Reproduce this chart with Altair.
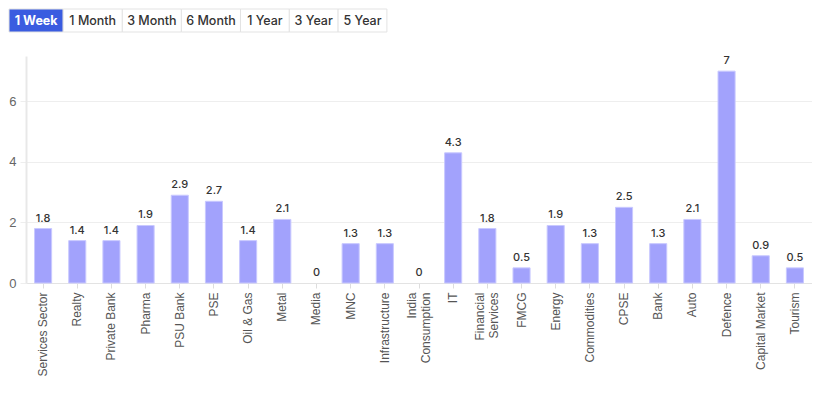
import altair as alt
import pandas as pd

categories = ["Services Sector", "Realty", "Private Bank", "Pharma", "PSU Bank", "PSE",
              "Oil & Gas", "Metal", "Media", "MNC", "Infrastructure", "India Consumption",
              "IT", "Financial Services", "FMCG", "Energy", "Commodities", "CPSE", "Bank",
              "Auto", "Defence", "Capital Market", "Tourism"]
values = [1.8, 1.4, 1.4, 1.9, 2.9, 2.7, 1.4, 2.1, 0, 1.3, 1.3, 0,
          4.3, 1.8, 0.5, 1.9, 1.3, 2.5, 1.3, 2.1, 7, 0.9, 0.5]
y_ticks = [0, 2, 4, 6]
two_line_labels = ["India Consumption", "Financial Services"]

buttons = ["1 Week", "1 Month", "3 Month", "6 Month", "1 Year", "3 Year", "5 Year"]
active_button = "1 Week"

# approximate text widths for the period selector buttons
char_w = {"W": 10.5, "M": 10.0, "Y": 7.0, " ": 3.0, "e": 6.5, "k": 6.3, "o": 6.8,
          "n": 6.8, "t": 4.3, "h": 6.8, "a": 6.4, "r": 4.5}
def text_w(s):
    return sum(char_w.get(c, 6.8) for c in s)

starts, ends = [], []
pos = 0.0
for b in buttons:
    w = text_w(b) + 14.6
    starts.append(pos)
    ends.append(pos + w)
    pos += w
total = pos
btn_df = pd.DataFrame({"label": buttons, "x0": starts, "x1": ends,
                       "active": [b == active_button for b in buttons]})
btn_df["xm"] = (btn_df["x0"] + btn_df["x1"]) / 2

LEFT_SHIFT = 17
bx = alt.Scale(domain=[0, total], range=[-LEFT_SHIFT, total - LEFT_SHIFT])

btn_rect = alt.Chart(btn_df).mark_rect(stroke="#e3e3e3", strokeWidth=1).encode(
    x=alt.X("x0:Q", scale=bx, axis=None),
    x2="x1:Q",
    y=alt.value(0),
    y2=alt.value("height"),
    fill=alt.condition("datum.active", alt.value("#3a5ce0"), alt.value("#ffffff")),
)
btn_text_active = alt.Chart(btn_df).transform_filter("datum.active").mark_text(
    font="Inter", fontSize=12.5, fontWeight=700, baseline="middle", color="#ffffff").encode(
    x=alt.X("xm:Q", scale=bx, axis=None),
    y=alt.value(12),
    text="label:N",
)
btn_text = alt.Chart(btn_df).transform_filter("!datum.active").mark_text(
    font="Inter", fontSize=12.5, fontWeight=500, baseline="middle", color="#333333").encode(
    x=alt.X("xm:Q", scale=bx, axis=None),
    y=alt.value(12),
    text="label:N",
)
btn_chart = alt.layer(btn_rect, btn_text_active, btn_text).properties(
    width=total - LEFT_SHIFT, height=23)

df = pd.DataFrame({"category": categories, "value": values})

two_line_js = "[" + ",".join("'" + s + "'" for s in two_line_labels) + "]"
x_enc = alt.X("category:N", sort=categories, title=None,
              scale=alt.Scale(paddingInner=0.5, paddingOuter=0.25),
              axis=alt.Axis(labelAngle=-90, labelAlign="right", labelBaseline="middle",
                            labelFont="Liberation Sans", labelFontSize=12, labelColor="#555555",
                            labelPadding=4, tickSize=5, tickColor="#dddddd",
                            domainColor="#e3e3e3", labelLineHeight=14,
                            labelOffset={"condition": {"test": f"indexof({two_line_js}, datum.label) >= 0",
                                                       "value": -7}, "value": 0},
                            labelExpr=f"indexof({two_line_js}, datum.label) >= 0 ? split(datum.label, ' ') : datum.label"))
y_enc = alt.Y("value:Q", title=None, scale=alt.Scale(domain=[0, 7.5], nice=False),
              axis=alt.Axis(values=y_ticks, labelFont="Liberation Sans", labelFontSize=13,
                            labelColor="#666666", labelPadding=4, tickSize=6,
                            tickColor="#eeeeee", gridColor="#eeeeee", domainColor="#e8e8e8",
                            domainWidth=2))

bars = alt.Chart(df).mark_bar(color="#a2a2fc", strokeWidth=1).encode(
    x=x_enc, y=y_enc,
    stroke=alt.condition("datum.value > 0", alt.value("#c9c9ff"), alt.value("transparent")))
labels = alt.Chart(df).mark_text(font="Inter", fontSize=11, fontWeight=500, color="#333333",
                                 baseline="bottom", dy=-5).encode(
    x=alt.X("category:N", sort=categories),
    y="value:Q",
    text=alt.Text("value:Q", format="~g"))

main = alt.layer(bars, labels).properties(width=786, height=227)

chart = alt.vconcat(btn_chart, main, spacing=22).properties(
    padding={"left": 0, "top": 0, "right": 0, "bottom": 0}
).configure_view(stroke=None)

chart.save("out.html", embed_options={"renderer": "svg", "actions": False})
